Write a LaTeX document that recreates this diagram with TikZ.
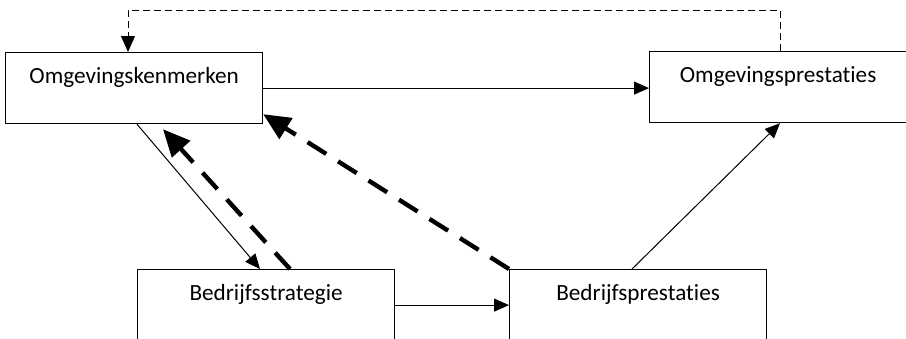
\documentclass[tikz,border=0pt]{standalone}
\usepackage{fontspec}
\setmainfont{Carlito}[Ligatures=NoCommon]
\usetikzlibrary{arrows.meta}

\begin{document}
\begin{tikzpicture}[x=0.5pt, y=-0.5pt,
  box/.style={draw, line width=0.6pt, anchor=north west, inner sep=0pt,
    minimum width=128.5pt, text height=15.5pt, text depth=20pt,
    font=\fontsize{11.6pt}{14pt}\selectfont},
  thin/.style={line width=0.5pt, -{Triangle[length=7.5pt, width=6.5pt]}},
  thindash/.style={line width=0.5pt, dash pattern=on 3.5pt off 2pt,
    -{Triangle[length=8pt, width=7pt]}},
  thickdash/.style={line width=2.2pt, dash pattern=on 11pt off 7pt,
    -{Triangle[length=13.5pt, width=12pt]}}]
  \useasboundingbox (0,0) rectangle (906,338);
  \clip (0,0) rectangle (906,338);

  \node[box] (omgk) at (5, 52) {Omgevingskenmerken};
  \node[box] (omgp) at (649, 51) {Omgevingsprestaties};
  \node[box] (bstr) at (137, 269) {Bedrijfsstrategie};
  \node[box] (bprest) at (509, 269) {Bedrijfsprestaties};

  \draw[thindash] ([xshift=65.5pt]omgp.north west) -- ++(0,-41)
    -| ([xshift=61.5pt]omgk.north west);

  \draw[thin] (omgk.east) -- (omgk.east -| omgp.west);
  \draw[thin] (bstr.east) -- (bstr.east -| bprest.west);
  \draw[thin] ([xshift=66pt]omgk.south west) to ([xshift=61.5pt]bstr.north west);
  \draw[thin] ([xshift=61.5pt]bprest.north west) to ([xshift=65.5pt]omgp.south west);

  \draw[thickdash] ([xshift=76.5pt]bstr.north west) to ([xshift=79pt, yshift=-2.5pt]omgk.south west);
  \draw[thickdash] (bprest.north west) to ([yshift=5pt]omgk.south east);



\end{tikzpicture}
\end{document}
